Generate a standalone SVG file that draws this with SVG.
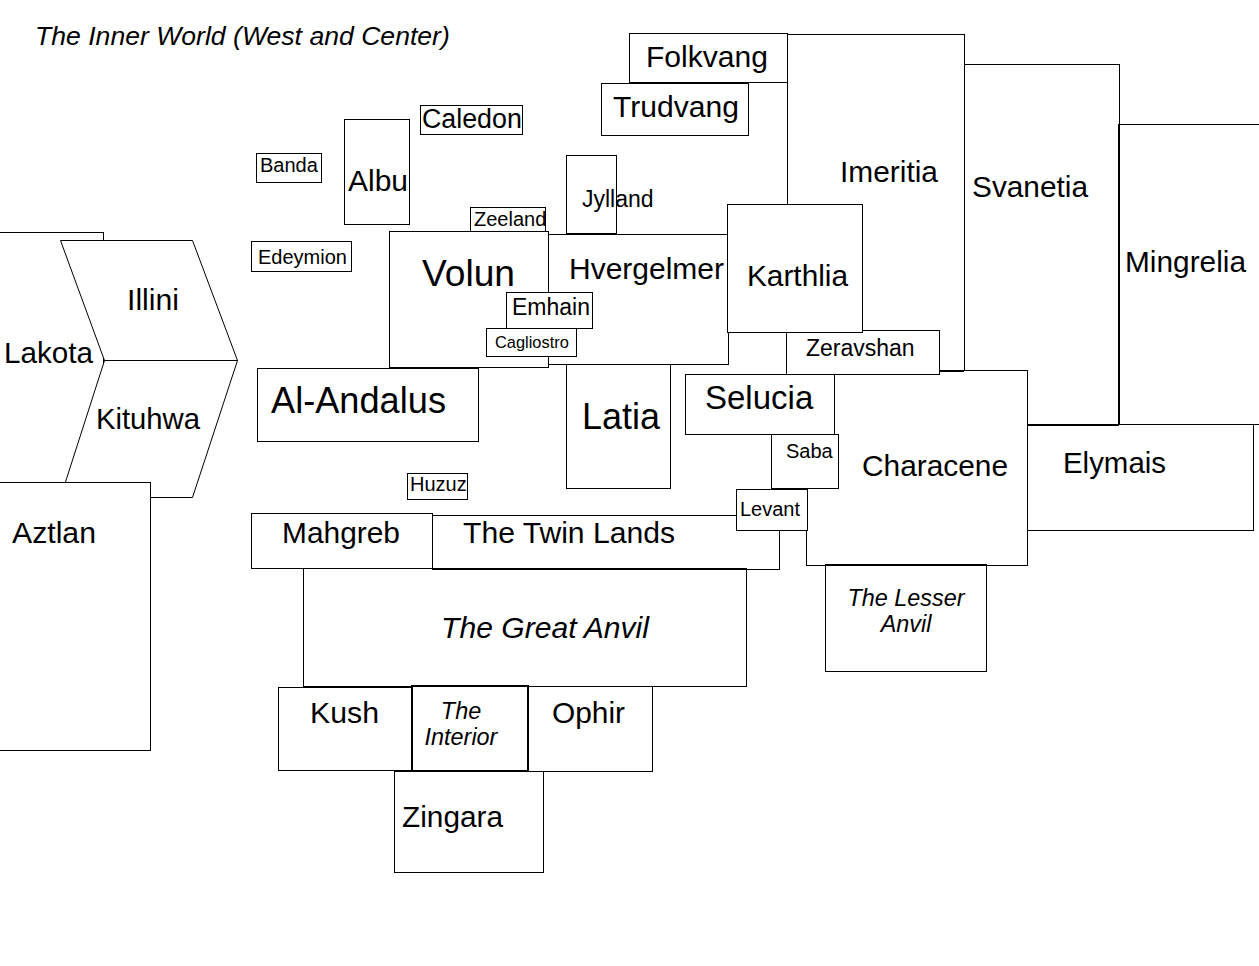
<svg xmlns="http://www.w3.org/2000/svg" width="1259" height="966" viewBox="0 0 1259 966">
<style>
.r{fill:#fff;stroke:#000;stroke-width:1}
.s{fill:none;stroke:#000;stroke-width:1}
text{font-family:"Liberation Sans",Arial,sans-serif;fill:#000}
.i{font-style:italic}
.a{font-size:29.8px}
.b{font-size:36.5px}
</style>
<rect width="1259" height="966" fill="#fff"/>
<text class="i" x="35" y="45" font-size="26.6">The Inner World (West and Center)</text>
<g id="svanetia"><rect class="r" x="960.5" y="64.5" width="159" height="361"/><text class="a" x="972" y="197" textLength="116" lengthAdjust="spacingAndGlyphs">Svanetia</text></g>
<g id="mingrelia"><rect class="r" x="1118.5" y="124.5" width="150" height="300"/><path class="s" d="M1119.5 124V425"/><text class="a" x="1125" y="272" textLength="121" lengthAdjust="spacingAndGlyphs">Mingrelia</text></g>
<g id="imeritia"><rect class="r" x="787.5" y="34.5" width="177" height="336"/><text class="a" x="840" y="182" textLength="98" lengthAdjust="spacingAndGlyphs">Imeritia</text></g>
<g id="folkvang"><rect class="r" x="629.5" y="33.5" width="158" height="49"/><text class="a" x="646" y="67" textLength="122" lengthAdjust="spacingAndGlyphs">Folkvang</text></g>
<g id="trudvang"><rect class="r" x="601.5" y="83.5" width="147" height="52"/><text class="a" x="613" y="117" textLength="126" lengthAdjust="spacingAndGlyphs">Trudvang</text></g>
<g id="caledon"><rect class="r" x="420.5" y="105.5" width="102" height="29"/><text x="422" y="128" font-size="26.8">Caledon</text></g>
<g id="banda"><rect class="r" x="256.5" y="153.5" width="65" height="29"/><text x="260" y="172" font-size="20">Banda</text></g>
<g id="albu"><rect class="r" x="344.5" y="119.5" width="65" height="105"/><text class="a" x="348" y="191" textLength="60" lengthAdjust="spacingAndGlyphs">Albu</text></g>
<g id="jylland"><rect class="r" x="566.5" y="155.5" width="50" height="78"/></g>
<g id="zeeland"><rect class="r" x="470.5" y="207.5" width="75" height="30"/><text x="474" y="226" font-size="20">Zeeland</text></g>
<g id="edeymion"><rect class="r" x="251.5" y="241.5" width="100" height="30"/><text x="258" y="264" font-size="20">Edeymion</text></g>
<g id="hvergelmer"><rect class="r" x="540.5" y="234.5" width="188" height="130"/><text class="a" x="569" y="279" textLength="155" lengthAdjust="spacingAndGlyphs">Hvergelmer</text></g>
<g id="volun"><rect class="r" x="389.5" y="231.5" width="159" height="136"/><text class="b" x="422" y="286" textLength="93" lengthAdjust="spacingAndGlyphs">Volun</text></g>
<g id="emhain"><rect class="r" x="506.5" y="292.5" width="86" height="36"/><text x="512" y="315" font-size="23">Emhain</text></g>
<g id="cagliostro"><rect class="r" x="486.5" y="328.5" width="90" height="28"/><text x="495" y="348" font-size="16.4">Cagliostro</text></g>
<text x="582" y="207" font-size="23">Jylland</text>
<g id="elymais"><rect class="r" x="1027.5" y="424.5" width="226" height="106"/><text class="a" x="1063" y="473" textLength="103" lengthAdjust="spacingAndGlyphs">Elymais</text></g>
<g id="characene"><rect class="r" x="806.5" y="370.5" width="221" height="195"/><text class="a" x="862" y="476" textLength="146" lengthAdjust="spacingAndGlyphs">Characene</text></g>
<g id="zeravshan"><rect class="r" x="786.5" y="330.5" width="153" height="44"/><text x="806" y="356" font-size="23">Zeravshan</text></g>
<g id="karthlia"><rect class="r" x="727.5" y="204.5" width="135" height="128"/><text class="a" x="747" y="286" textLength="101" lengthAdjust="spacingAndGlyphs">Karthlia</text></g>
<g id="lakota"><rect class="r" x="-20.5" y="232.5" width="124" height="260"/><text class="a" x="4" y="363" textLength="89" lengthAdjust="spacingAndGlyphs">Lakota</text></g>
<g id="illini"><polygon class="r" points="60.5,240.5 192.5,240.5 237.5,360.5 104.5,360.5"/><text class="a" x="127" y="310" textLength="52" lengthAdjust="spacingAndGlyphs">Illini</text></g>
<g id="kituhwa"><polygon class="r" points="104.5,360.5 237.5,360.5 192.5,497.5 60.5,497.5"/><text class="a" x="96" y="429" textLength="104" lengthAdjust="spacingAndGlyphs">Kituhwa</text></g>
<g id="aztlan"><rect class="r" x="-20.5" y="482.5" width="171" height="268"/><text class="a" x="12" y="543" textLength="84" lengthAdjust="spacingAndGlyphs">Aztlan</text></g>
<g id="al-andalus"><rect class="r" x="257.5" y="368.5" width="221" height="73"/><text class="b" x="271" y="413" textLength="175" lengthAdjust="spacingAndGlyphs">Al-Andalus</text></g>
<g id="latia"><rect class="r" x="566.5" y="364.5" width="104" height="124"/><text class="b" x="582" y="429" textLength="78" lengthAdjust="spacingAndGlyphs">Latia</text></g>
<g id="selucia"><rect class="r" x="685.5" y="374.5" width="149" height="60"/><text x="705" y="409" font-size="33">Selucia</text></g>
<g id="saba"><rect class="r" x="771.5" y="434.5" width="67" height="54"/><text x="786" y="458" font-size="20">Saba</text></g>
<g id="huzuz"><rect class="r" x="407.5" y="473.5" width="60" height="26"/><text x="410" y="491" font-size="20">Huzuz</text></g>
<g id="twin-lands"><rect class="r" x="420.5" y="515.5" width="359" height="54"/><text class="a" x="463" y="543" textLength="212" lengthAdjust="spacingAndGlyphs">The Twin Lands</text></g>
<g id="levant"><rect class="r" x="736.5" y="489.5" width="71" height="41"/><text x="740" y="516" font-size="20">Levant</text></g>
<g id="great-anvil"><rect class="r" x="303.5" y="568.5" width="443" height="118"/><path class="s" d="M432 569.5H746"/><text class="i a" x="441" y="638" textLength="208" lengthAdjust="spacingAndGlyphs">The Great Anvil</text></g>
<g id="mahgreb"><rect class="r" x="251.5" y="513.5" width="181" height="55"/><text class="a" x="282" y="543" textLength="118" lengthAdjust="spacingAndGlyphs">Mahgreb</text></g>
<g id="lesser-anvil"><rect class="r" x="825.5" y="564.5" width="161" height="107"/><path class="s" d="M825 565.5H987"/><text class="i" font-size="23.4" text-anchor="middle"><tspan x="906" y="606">The Lesser</tspan><tspan x="906" y="632">Anvil</tspan></text></g>
<g id="zingara"><rect class="r" x="394.5" y="771.5" width="149" height="101"/><text class="a" x="402" y="827" textLength="101" lengthAdjust="spacingAndGlyphs">Zingara</text></g>
<g id="kush"><rect class="r" x="278.5" y="687.5" width="134" height="83"/><text class="a" x="310" y="723" textLength="69" lengthAdjust="spacingAndGlyphs">Kush</text></g>
<g id="ophir"><rect class="r" x="527.5" y="686.5" width="125" height="85"/><text class="a" x="552" y="723" textLength="73" lengthAdjust="spacingAndGlyphs">Ophir</text></g>
<g id="interior"><rect class="r" x="412" y="686" width="116" height="85" style="stroke-width:2"/><text class="i" font-size="23.4" text-anchor="middle"><tspan x="461" y="719">The</tspan><tspan x="461" y="745">Interior</tspan></text></g>
<g id="connectors"><path class="s" d="M964 371.5H940M1028 425.5H1119"/></g>
</svg>
